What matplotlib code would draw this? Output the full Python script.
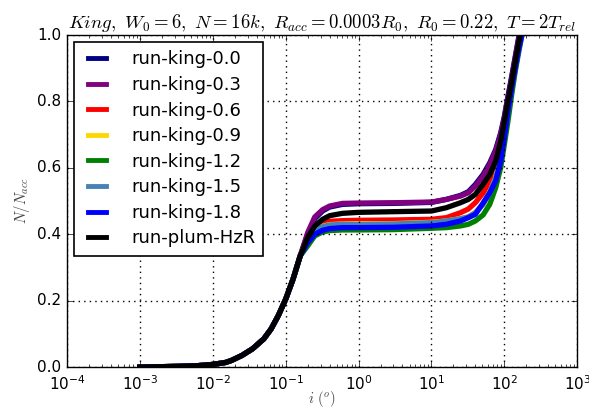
import matplotlib
matplotlib.use("Agg")
import matplotlib.pyplot as plt

plt.style.use("classic")
plt.rcParams["mathtext.fontset"] = "cm"
plt.rcParams["figure.facecolor"] = "white"
plt.rcParams["savefig.facecolor"] = "white"

# common inclination grid (degrees)
incl = [0.001, 0.003, 0.006, 0.01, 0.015, 0.018, 0.025, 0.035, 0.05, 0.063, 0.079,
        0.1, 0.126, 0.158, 0.2, 0.25, 0.32, 0.4, 0.6, 1.0, 3.0, 10, 16, 25, 32, 40,
        51, 63, 76, 89, 100, 112, 126, 141, 158, 178, 200]

labels = ["run-king-0.0", "run-king-0.3", "run-king-0.6", "run-king-0.9",
          "run-king-1.2", "run-king-1.5", "run-king-1.8", "run-plum-HzR"]
colors = ["#000080", "#800080", "#ff0000", "#ffd700",
          "#008000", "#4682b4", "#0000ff", "#000000"]

low = [0.0, 0.002, 0.004, 0.008, 0.014, 0.02, 0.035, 0.055, 0.085, 0.115, 0.155,
       0.205, 0.265, 0.335]

king_00 = low + [0.40, 0.447, 0.47, 0.482, 0.49, 0.492, 0.493, 0.496, 0.505, 0.517,
                 0.528, 0.55, 0.58, 0.615, 0.655, 0.705, 0.755, 0.815, 0.875, 0.935,
                 0.995, 1.045, 1.09]
king_03 = low + [0.405, 0.452, 0.474, 0.485, 0.493, 0.494, 0.495, 0.497, 0.505, 0.515,
                 0.525, 0.545, 0.575, 0.61, 0.65, 0.70, 0.75, 0.81, 0.87, 0.93,
                 0.99, 1.04, 1.09]
king_06 = low + [0.385, 0.42, 0.433, 0.439, 0.441, 0.442, 0.443, 0.445, 0.45, 0.465,
                 0.476, 0.495, 0.524, 0.56, 0.60, 0.66, 0.72, 0.78, 0.85, 0.91,
                 0.97, 1.02, 1.07]
king_09 = low + [0.385, 0.412, 0.424, 0.429, 0.431, 0.432, 0.432, 0.436, 0.44, 0.447,
                 0.453, 0.466, 0.49, 0.525, 0.57, 0.63, 0.70, 0.77, 0.84, 0.90,
                 0.96, 1.02, 1.07]
king_12 = low + [0.365, 0.395, 0.407, 0.411, 0.413, 0.413, 0.414, 0.418, 0.42, 0.425,
                 0.43, 0.44, 0.458, 0.49, 0.54, 0.60, 0.67, 0.74, 0.82, 0.89,
                 0.95, 1.01, 1.06]
king_15 = low + [0.385, 0.412, 0.423, 0.428, 0.43, 0.43, 0.431, 0.435, 0.44, 0.447,
                 0.452, 0.465, 0.49, 0.525, 0.57, 0.63, 0.70, 0.77, 0.84, 0.90,
                 0.96, 1.02, 1.07]
king_18 = low + [0.375, 0.40, 0.412, 0.417, 0.42, 0.42, 0.421, 0.425, 0.43, 0.44,
                 0.45, 0.46, 0.494, 0.525, 0.56, 0.62, 0.69, 0.77, 0.84, 0.90,
                 0.96, 1.01, 1.06]
plum_hzr = low + [0.39, 0.425, 0.445, 0.456, 0.463, 0.466, 0.468, 0.47, 0.48, 0.495,
                  0.505, 0.52, 0.55, 0.58, 0.62, 0.68, 0.74, 0.80, 0.86, 0.92,
                  0.98, 1.03, 1.08]

series = [king_00, king_03, king_06, king_09, king_12, king_15, king_18, plum_hzr]

fig = plt.figure(figsize=(5.89, 4.12), dpi=100)
ax = fig.add_axes([0.114, 0.109, 0.866, 0.806])

for y, c, lab in zip(series, colors, labels):
    ax.plot(incl, y, color=c, lw=3.8, label=lab)

ax.set_xscale("log")
ax.set_xlim(1e-4, 1e3)
ax.set_ylim(0.0, 1.0)
ax.set_yticks([0.0, 0.2, 0.4, 0.6, 0.8, 1.0])
ax.grid(True, color="k", linestyle=":", linewidth=1.0)
ax.tick_params(labelsize=11)
ax.tick_params(axis="x", pad=5)

ax.set_title(r"$King,\ W_0=6,\ N=16k,\ R_{acc}=0.0003R_0,\ R_0=0.22,\ T=2T_{rel}$",
             fontsize=13.5)
ax.set_xlabel(r"$i\ (^o)$", fontsize=10.5, color="#444444", labelpad=-3)
ax.set_ylabel(r"$N/N_{acc}$", fontsize=10.5, color="#444444", labelpad=4)

leg = ax.legend(loc="upper left", fontsize=13, handlelength=1.6, frameon=True,
                fancybox=False, borderaxespad=0.4, labelspacing=0.42,
                handletextpad=1.1, borderpad=0.45)
leg.get_frame().set_edgecolor("black")
leg.get_frame().set_linewidth(1.2)
for h in leg.get_lines():
    h.set_linewidth(3.5)

fig.savefig("out.png", dpi=100)
